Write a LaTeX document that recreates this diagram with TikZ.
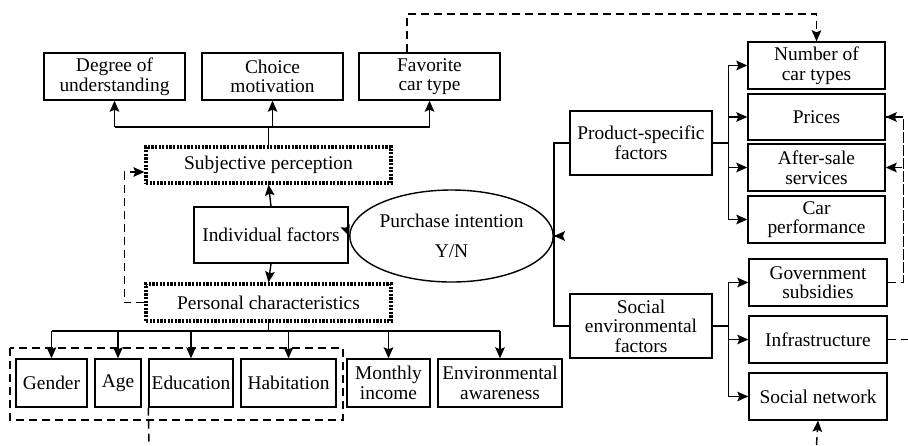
\documentclass[tikz,border=0pt]{standalone}
\usepackage{fontspec}
\setmainfont{Liberation Serif}
\usetikzlibrary{arrows,arrows.meta,shapes}

\begin{document}
\begin{tikzpicture}[x=0.5pt, y=-0.5pt, line width=0.7pt,
        every node/.style={font=\fontsize{9.7}{9.8}\selectfont},
        arr/.style={-{Stealth[length=5.5pt,width=4.8pt,inset=1pt]}},
        box/.style={draw, align=center, inner sep=1pt},
        sz/.style 2 args={minimum width=#1, minimum height=#2},
        dotbox/.style={box, line width=1.6pt, dash pattern=on 1.1pt off 0.7pt},
        fb/.style={dash pattern=on 4pt off 2.5pt}]
        \useasboundingbox (0,0) rectangle (908,445);
        % Draw the perception boxes
        \node[box, sz={70.5pt}{23.5pt}] (deg) at (114.5,76.5) {Degree of\\understanding};
        \node[box, sz={70.5pt}{23.5pt}] (cho) at (272.5,76.5) {Choice\\motivation};
        \node[box, sz={70.5pt}{23.5pt}] (fav) at (429.5,76.5) {Favorite\\car type};
        \node[dotbox, sz={122.5pt}{18pt}] (subj) at (268.5,165) {Subjective perception};
        \node[box, sz={77pt}{28pt}] (ind) at (271,235) {Individual factors};
        \node[dotbox, sz={122.5pt}{18.5pt}] (pers) at (268.5,302.5) {Personal characteristics};
        \node[draw, ellipse, inner sep=0pt, sz={82.5pt}{46pt}, align=center] (ell) at (451.5,236) {Purchase intention\\[5pt]Y/N};
        % Draw the personal characteristic boxes
        \node[box, sz={35.5pt}{24pt}] (gen) at (51.5,383) {Gender};
        \node[box, sz={23pt}{24pt}] (age) at (118,383) {Age};
        \node[box, sz={42pt}{24pt}] (edu) at (191,383) {Education};
        \node[box, sz={47.5pt}{24pt}] (hab) at (288.5,383) {Habitation};
        \node[box, sz={41.5pt}{24pt}] (inc) at (388.5,383) {Monthly\\income};
        \node[box, sz={62pt}{24pt}] (env) at (500,383) {Environmental\\awareness};
        \draw[fb] (10,348) rectangle (343,420);
        % Draw the factor boxes
        \node[box, sz={71pt}{32pt}] (prod) at (641,143) {Product-specific\\factors};
        \node[box, sz={71pt}{32pt}] (soc) at (641,326) {Social\\environmental\\factors};
        \node[box, sz={68.5pt}{23.5pt}] (num) at (816.5,65.5) {Number of\\car types};
        \node[box, sz={68.5pt}{23pt}] (pri) at (816.5,117) {Prices};
        \node[box, sz={68.5pt}{23.5pt}] (aft) at (816.5,167.5) {After-sale\\services};
        \node[box, sz={68.5pt}{23.5pt}] (perf) at (816.5,219.5) {Car\\performance};
        \node[box, sz={69pt}{23.5pt}] (gov) at (818,282.5) {Government\\subsidies};
        \node[box, sz={69pt}{23.5pt}] (inf) at (818,339.5) {Infrastructure};
        \node[box, sz={69pt}{23.5pt}] (net) at (818,396.5) {Social network};
        % Connectors
        \coordinate (tbus) at (272,127);
        \coordinate (pbus) at (270,331);
        \coordinate (ebus) at (554,236);
        \coordinate (topfb) at (407,14);
        \coordinate (infout) at (908,339.5);
        \coordinate (netin) at (816.5,445);
        \coordinate (eduout) at (149,445);
        \draw (subj.north) -- (subj.north |- tbus);
        \draw (deg.south |- tbus) -- (fav.south |- tbus);
        \foreach \n in {deg,cho,fav}
        \draw[arr] (\n.south |- tbus) -- (\n.south);
        \draw[arr] (ind.north) -- (subj.south);
        \draw[arr] (ind.south) -- (pers.north);
        \draw[arr] (ind.east) -- (ell.west);
        \draw (pers.south) -- (pers.south |- pbus);
        \draw (gen.north |- pbus) -- (env.north |- pbus);
        \foreach \n in {gen,age,edu,hab,inc,env}
        \draw[arr] (\n.north |- pbus) -- (\n.north);
        \draw (prod.west) -| (ebus);
        \draw (soc.west) -| (ebus);
        \draw[arr] (ebus) -- (ell.east);
        \foreach \n in {num,pri,aft,perf}
        \draw[arr] (prod.east) -- ++(16,0) |- (\n.west);
        \foreach \n in {gov,inf,net}
        \draw[arr] (soc.east) -- ++(16,0) |- (\n.west);
        % Feedback lines
        \draw[fb,arr] (pers.west) -- ++(-20,0) |- ([yshift=-3.5pt]subj.west);
        \draw[fb,arr] (topfb |- fav.north) -- (topfb) -| (num.north);
        \draw[fb] (gov.east) -- ++(16,0) |- (pri.east);
        \draw[fb,arr] (gov.east) ++(16,0) |- (pri.east);
        \draw[fb,arr] (gov.east) ++(16,0) |- (aft.east);
        \draw[fb] (inf.east) -- (infout);
        \draw[fb,arr] (netin) -- (net.south);
        \draw[fb] (edu.south west) -- (eduout);
\end{tikzpicture}
\end{document}
